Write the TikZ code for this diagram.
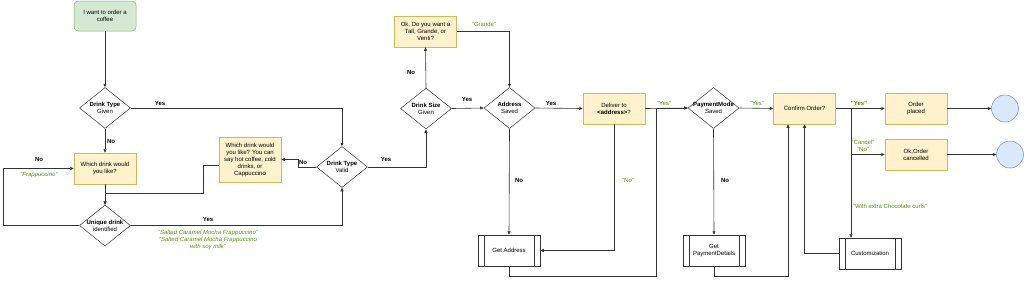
\documentclass[tikz,border=0pt]{standalone}
\usepackage{fontspec}
\setmainfont{Liberation Sans}
\usetikzlibrary{shapes.geometric,arrows.meta}
\definecolor{yfill}{HTML}{FFF2CC}
\definecolor{ydraw}{HTML}{D6B656}
\definecolor{gfill}{HTML}{D5E8D4}
\definecolor{gdraw}{HTML}{82B366}
\definecolor{bfill}{HTML}{DAE8FC}
\definecolor{bdraw}{HTML}{6C8EBF}
\definecolor{gtext}{HTML}{4D9900}
\definecolor{lcol}{HTML}{333333}
\begin{document}
\begin{tikzpicture}[x=1pt,y=-1pt,
  font=\fontsize{6}{7}\selectfont,
  box/.style={draw=ydraw, fill=yfill, line width=0.5pt, minimum width=62pt, minimum height=31pt, align=center, inner sep=1pt},
  startbox/.style={draw=gdraw, fill=gfill, line width=0.5pt, rounded corners=4pt, minimum width=62pt, minimum height=30pt, align=center},
  dia/.style={diamond, draw=lcol, fill=white, line width=0.5pt, minimum width=51pt, minimum height=41pt, inner sep=0pt},
  dtext/.style={align=center, inner sep=0pt},
  proc/.style={draw=lcol, fill=white, line width=0.5pt, minimum width=62pt, minimum height=31pt, align=center, inner sep=1pt,
    path picture={
      \draw[lcol,line width=0.5pt] ([xshift=6pt]path picture bounding box.north west) -- ([xshift=6pt]path picture bounding box.south west);
      \draw[lcol,line width=0.5pt] ([xshift=-6pt]path picture bounding box.north east) -- ([xshift=-6pt]path picture bounding box.south east);}},
  endc/.style={circle, draw=bdraw, fill=bfill, line width=0.5pt, minimum size=27pt, inner sep=0pt},
  conn/.style={draw=lcol, line width=0.6pt, -{Triangle[length=3.5pt,width=3pt]}},
  lbl/.style={font=\fontsize{6}{7}\selectfont\bfseries, inner sep=0pt},
  glbl/.style={text=gtext, inner sep=0pt, align=center},
  gilbl/.style={text=gtext, font=\fontsize{6}{7}\selectfont\itshape, inner sep=0pt, align=center}
]
\useasboundingbox (0,0) rectangle (1024,282);

% nodes
\node[startbox] (st) at (105,16) {I want to order a\\coffee};
\node[dia] (dtg) at (105,108) {};
\node[dtext] at (dtg) {\textbf{Drink Type}\\Given};
\node[box] (wd) at (105,168.5) {Which drink would\\you like?};
\node[dia] (ud) at (105,225.5) {};
\node[dtext] at (ud) {\textbf{Unique drink}\\identified};
\node[box, minimum height=45pt] (wd2) at (250,159.5) {Which drink would\\you like? You can\\say hot coffee, cold\\drinks, or\\Cappuccino};
\node[dia] (dtv) at (342,167) {};
\node[dtext] at (dtv) {\textbf{Drink Type}\\Valid};
\node[dia] (dsg) at (426,108.5) {};
\node[dtext] at (dsg) {\textbf{Drink Size}\\Given};
\node[box] (ok) at (425.5,31.5) {Ok, Do you want a\\Tall, Grande, or\\Venti?};
\node[dia] (as) at (509.5,108) {};
\node[dtext] at (as) {\textbf{Address}\\Saved};
\node[box] (del) at (614,108.5) {Deliver to\\\textbf{<address>}?};
\node[proc] (ga) at (509,250.5) {Get Address};
\node[dia] (pm) at (713.5,108) {};
\node[dtext] at (pm) {\textbf{PaymentMode}\\Saved};
\node[proc] (gp) at (714,250.5) {Get\\PaymentDetails};
\node[box] (co) at (804.5,108.5) {Confirm Order?};
\node[proc] (cu) at (870,253.5) {Customization};
\node[box] (op) at (916,108.5) {Order\\placed};
\node[box] (oc) at (916,154.5) {Ok,Order\\cancelled};
\node[endc] (e1) at (1005,108.5) {};
\node[endc] (e2) at (1010,154.5) {};

% connectors
\draw[conn] (st) -- (dtg.north);
\draw[conn] (dtg.east) -| (dtv.north);
\node[lbl] at (160,103) {Yes};
\draw[conn] (dtg.south) -- (wd.north);
\node[lbl] at (111,141) {No};
\draw[conn] (wd.south) -- (ud.north);
\draw[conn] (ud.west) -- (3,225.5) |- (wd.west);
\node[lbl] at (39,159) {No};
\node[gilbl] at (39,175) {"Frappuccino"};
\draw[conn] (ud.east) -| (dtv.south);
\node[lbl] at (208,219) {Yes};
\node[gilbl] at (208,239.5) {"Salted Caramel Mocha Frappuccino"\\"Salted Caramel Mocha Frappuccino\\with soy milk"};
\draw[conn] (dtv.west) -- (298,167) |- (wd2.east);
\node[lbl] at (303,162) {No};
\draw[conn] ([yshift=-6pt]wd2.west) -- (203,165.5) |- (105,193) -- (ud.north);
\draw[conn] (dtv.east) -| (dsg.south);
\node[lbl] at (386,159) {Yes};
\draw[conn] (dsg.north) -- (ok.south);
\node[lbl] at (411,72) {No};
\draw[conn] (ok.east) -| (as.north);
\node[glbl] at (484,24) {"Grande"};
\draw[conn] (dsg.east) -- (as.west);
\node[lbl] at (467,99) {Yes};
\draw[conn] (as.east) -- (del.west);
\node[lbl] at (551,103) {Yes};
\draw[conn] (as.south) -- (ga.north);
\node[lbl] at (519,180) {No};
\draw[conn] (del.south) |- (ga.east);
\node[glbl] at (628,180) {"No"};
\draw[conn] (del.east) -- (pm.west);
\node[glbl] at (664,103) {"Yes"};
\draw[conn] (ga.south) -- ++(0,10) -| (656,108) -- (pm.west);
\draw[conn] (pm.east) -- (co.west);
\node[glbl] at (757,103) {"Yes"};
\draw[conn] (pm.south) -- (gp.north);
\node[lbl] at (725,180) {No};
\draw[conn] (gp.south) -- ++(0,10) -| ([xshift=-16.5pt]co.south);
\draw[conn] (cu.west) -| (co.south);
\coordinate (br) at (851,108.5);
\draw[conn] (co.east) -- (op.west);
\node[glbl, font=\fontsize{6}{7}\selectfont\bfseries] at (859,103) {"Yes"};
\draw[conn] (br) |- (oc.west);
\node[glbl] at (863,146) {"Cancel"\\"No"};
\draw[conn] (br) -- ([xshift=-19pt]cu.north);
\node[glbl] at (890,206) {"With extra Chocolate curls"};
\draw[conn] (op.east) -- (e1);
\draw[conn] (oc.east) -- (e2);
\end{tikzpicture}
\end{document}
